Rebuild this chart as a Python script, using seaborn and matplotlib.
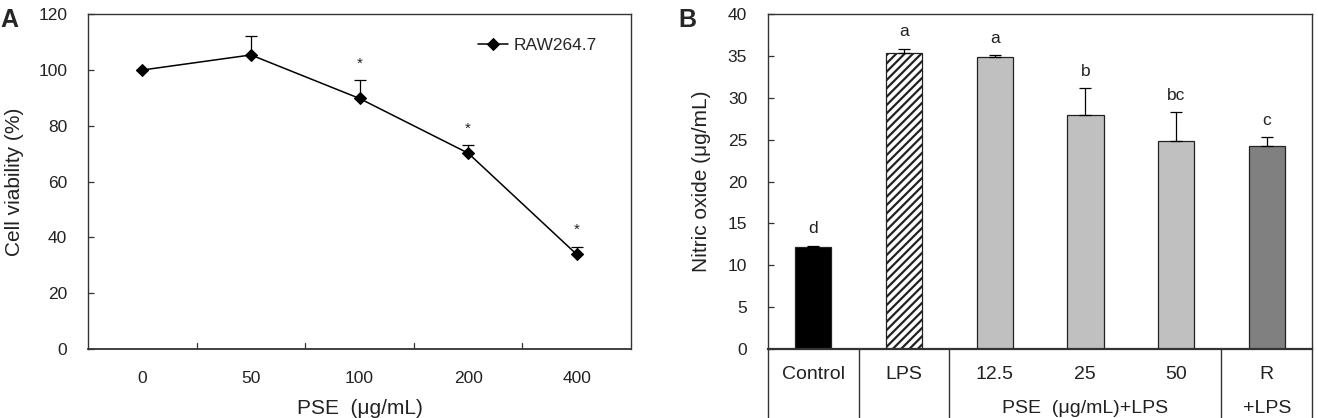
import matplotlib
matplotlib.use("Agg")
import matplotlib.pyplot as plt
import matplotlib.transforms as mtransforms
import seaborn as sns
import pandas as pd

sns.set_theme(style="white")
plt.rcParams['font.family'] = ['Liberation Sans', 'DejaVu Sans']
plt.rcParams['hatch.linewidth'] = 1.6

# panel A data
doses = ["0", "50", "100", "200", "400"]
viability = [100.0, 105.4, 89.8, 70.2, 33.9]
viability_err = [0.0, 6.7, 6.5, 2.8, 2.7]
viability_sig = ["", "", "*", "*", "*"]

# panel B data
groups = ["Control", "LPS", "12.5", "25", "50", "R"]
nitric = [12.2, 35.4, 34.9, 28.0, 24.9, 24.2]
nitric_err = [0.15, 0.5, 0.2, 3.2, 3.4, 1.1]
nitric_letters = ["d", "a", "a", "b", "bc", "c"]
bar_colors = ["#000000", "#ffffff", "#c0c0c0", "#c0c0c0", "#c0c0c0", "#808080"]

fig = plt.figure(figsize=(13.18, 4.18), dpi=100)
axA = fig.add_axes([0.0668, 0.165, 0.412, 0.801])
axB = fig.add_axes([0.5827, 0.165, 0.4128, 0.801])

txt = "#222222"
edge = "#333333"

# ---- A
dfA = pd.DataFrame({"dose": doses, "viab": viability})
sns.lineplot(data=dfA, x="dose", y="viab", ax=axA, color="black", lw=1.1,
             marker="D", markersize=6.5, markeredgecolor="black", label="RAW264.7")
axA.errorbar(range(len(doses)), viability, yerr=[[0] * len(doses), viability_err],
             fmt="none", ecolor="black", elinewidth=0.9, capsize=4, capthick=0.9)
for i, s in enumerate(viability_sig):
    if s:
        axA.text(i, viability[i] + viability_err[i] + 6.0, s, ha="center", va="center",
                 fontsize=11, color=txt)
axA.set_xlim(-0.5, len(doses) - 0.5)
axA.set_ylim(0, 120)
axA.set_yticks(range(0, 121, 20))
axA.set_xlabel("PSE  (μg/mL)", fontsize=15, color=txt, labelpad=9)
axA.set_ylabel("Cell viability (%)", fontsize=15, color=txt, labelpad=10)
axA.set_xticks(range(len(doses)))
axA.set_xticklabels(doses)
axA.tick_params(axis="x", labelsize=12.5, colors=txt, length=0, pad=16)
axA.tick_params(axis="y", labelsize=12.5, labelcolor=txt, color=edge, length=4,
                width=0.9, direction="in", left=True, pad=15)
for b in [0.5, 1.5, 2.5, 3.5]:
    axA.plot([b, b], [0, 2.2], color=edge, lw=0.9)
axA.legend(loc="center right", frameon=False, fontsize=12.5, handlelength=1.7,
           handletextpad=0.3, bbox_to_anchor=(0.965, 0.907))
for sp in axA.spines.values():
    sp.set_color(edge)
    sp.set_linewidth(1.0)
axA.spines["bottom"].set_linewidth(1.3)

# ---- B
dfB = pd.DataFrame({"grp": groups, "no": nitric})
sns.barplot(data=dfB, x="grp", y="no", hue="grp", palette=bar_colors, ax=axB,
            width=0.4, legend=False, edgecolor="#222222", linewidth=0.9)
axB.patches[1].set_hatch("////")
axB.errorbar(range(len(groups)), nitric, yerr=[[0] * len(groups), nitric_err],
             fmt="none", ecolor="black", elinewidth=0.9, capsize=4, capthick=0.9)
for i, s in enumerate(nitric_letters):
    axB.text(i, nitric[i] + nitric_err[i] + 2.0, s, ha="center", va="center",
             fontsize=12.5, color=txt)
axB.set_xlim(-0.5, len(groups) - 0.5)
axB.set_ylim(0, 40)
axB.set_yticks(range(0, 41, 5))
axB.set_xticks([])
axB.set_xlabel("")
axB.set_ylabel("Nitric oxide (μg/mL)", fontsize=15, color=txt, labelpad=12)
axB.tick_params(axis="y", labelsize=12.5, labelcolor=txt, color=edge, length=4,
                width=0.9, direction="in", left=True, pad=15)
for sp in axB.spines.values():
    sp.set_color(edge)
    sp.set_linewidth(1.0)
axB.spines["bottom"].set_linewidth(1.6)

# table under panel B
trans = mtransforms.blended_transform_factory(axB.transData, axB.transAxes)
for xb in [-0.5, 0.5, 1.5, 4.5, 5.5]:
    axB.plot([xb, xb], [0, -0.23], transform=trans, color=edge, lw=1.0,
             clip_on=False)
for i, lab in enumerate(groups):
    axB.text(i, -0.075, lab, transform=trans, ha="center", va="center",
             fontsize=14, color=txt)
axB.text(3, -0.178, "PSE  (μg/mL)+LPS", transform=trans, ha="center",
         va="center", fontsize=14, color=txt)
axB.text(5, -0.178, "+LPS", transform=trans, ha="center", va="center",
         fontsize=14, color=txt)

fig.text(0.0, 0.953, "A", fontsize=18, fontweight="bold", va="center")
fig.text(0.515, 0.953, "B", fontsize=18, fontweight="bold", va="center")

fig.savefig("out.png", dpi=100)
